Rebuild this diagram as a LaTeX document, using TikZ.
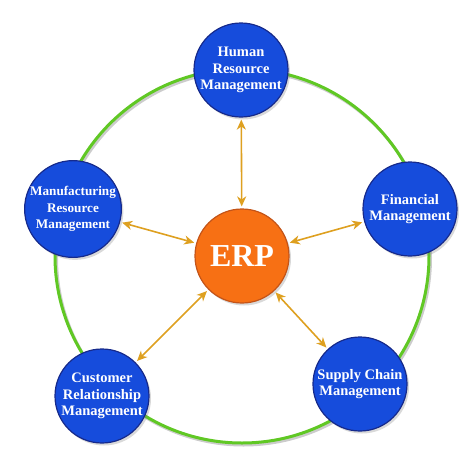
\documentclass[tikz,border=0pt]{standalone}
\usepackage{fontspec}
\setmainfont{Liberation Serif}
\usetikzlibrary{shadows,arrows.meta}
\definecolor{nodeblue}{RGB}{22,76,220}
\definecolor{nodeedge}{RGB}{22,42,140}
\definecolor{erporange}{RGB}{247,112,20}
\definecolor{erpedge}{RGB}{196,84,24}
\definecolor{ringgreen}{RGB}{96,200,36}
\definecolor{arrowgold}{RGB}{222,160,32}
\begin{document}
\begin{tikzpicture}[x=1pt,y=-1pt,
  module/.style={circle,draw=nodeedge,line width=1.2pt,fill=nodeblue,
    minimum size=94pt,inner sep=0pt,text=white,align=center,
    font=\fontsize{14.5}{16.7}\selectfont\bfseries,
    drop shadow={opacity=0.3,shadow xshift=2pt,shadow yshift=-2.5pt}},
  smallmodule/.style={module,font=\fontsize{13.2}{16.3}\selectfont\bfseries},
  hub/.style={circle,draw=erpedge,line width=1.2pt,fill=erporange,
    minimum size=94pt,inner sep=0pt,text=white,
    font=\fontsize{32}{34}\selectfont\bfseries,
    drop shadow={opacity=0.3,shadow xshift=2pt,shadow yshift=-2.5pt}},
  link/.style={draw=arrowgold,line width=1.6pt,
    {Stealth[length=10pt,width=9pt,inset=3pt]}-{Stealth[length=10pt,width=9pt,inset=3pt]},
    shorten <=2pt,shorten >=2pt},
  ring/.style={draw=ringgreen,line width=3pt}]
\useasboundingbox (0,0) rectangle (474,456);
\coordinate (c) at (242,256);
\draw[gray!40,line width=3pt] ([shift={(1.5pt,-2pt)}]c) circle[radius=187pt];
\draw[ring] (c) circle[radius=187pt];
\node[hub] (erp) at (c) {ERP};
\node[module] (hr) at (241,70) {Human\\Resource\\Management};
\node[module] (fin) at (410,209) {Financial\\Management};
\node[smallmodule] (mfg) at (73,209) {Manufacturing\\Resource\\Management};
\node[module] (crm) at (102,396) {Customer\\Relationship\\Management};
\node[module] (scm) at (360,384) {Supply Chain\\Management};
\draw[link] (erp) -- (hr);
\draw[link] (erp) -- (fin);
\draw[link] (erp) -- (mfg);
\draw[link] (erp) -- (crm);
\draw[link] (erp) -- (scm);
\end{tikzpicture}
\end{document}
